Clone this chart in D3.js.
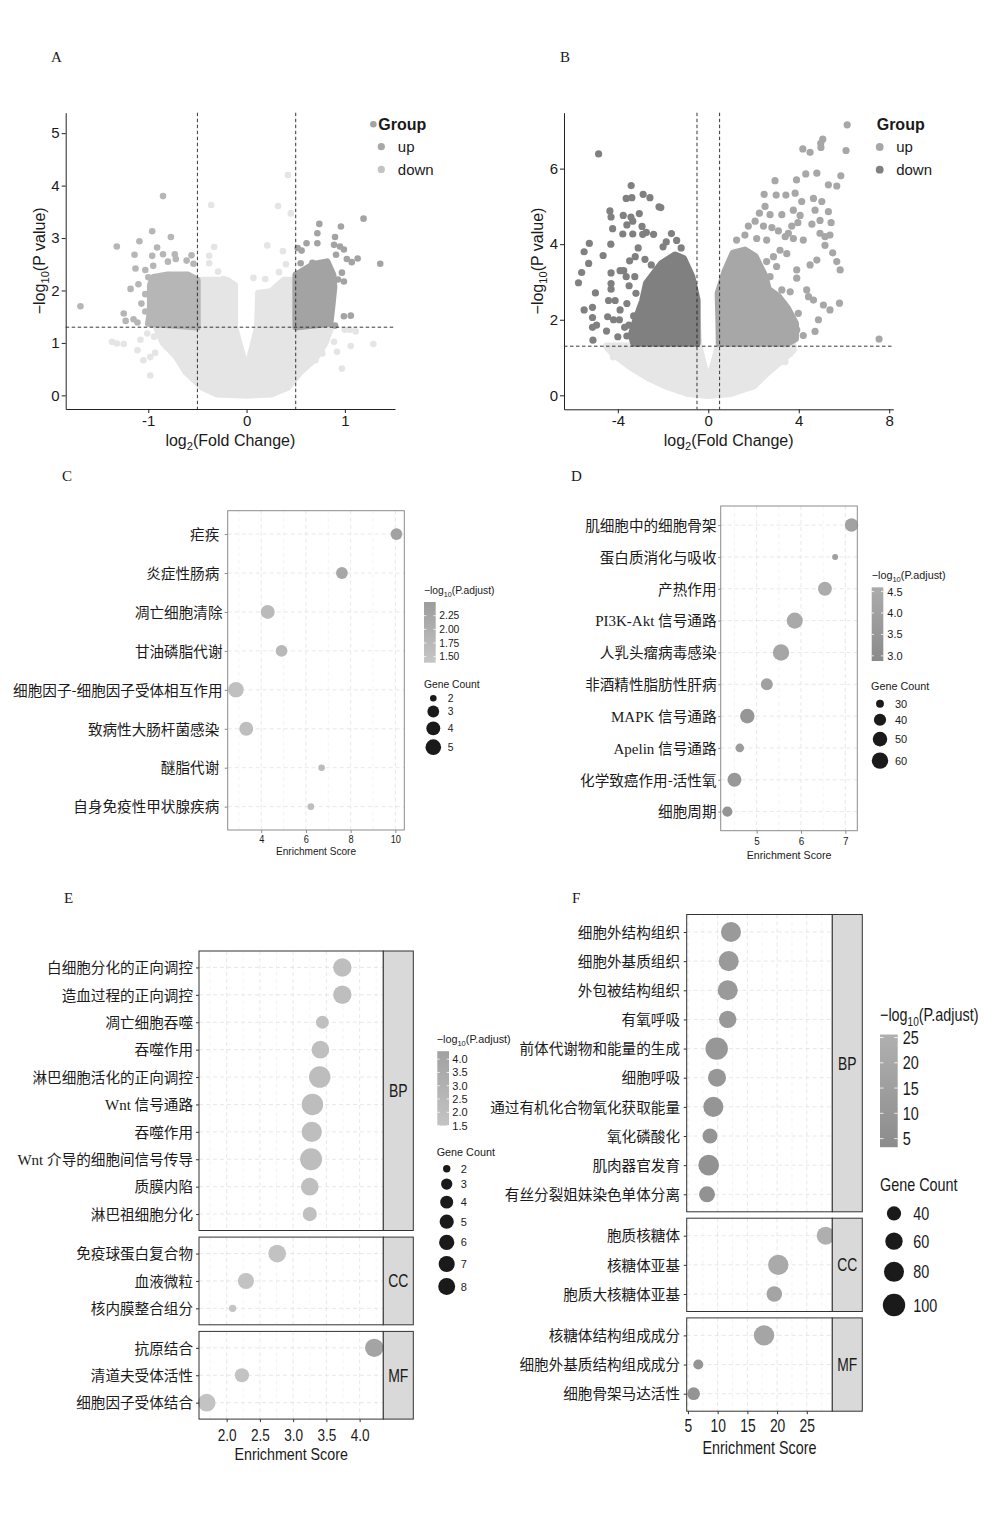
<!DOCTYPE html>
<html>
<head>
<meta charset="utf-8">
<script src="https://cdn.jsdelivr.net/npm/d3@7/dist/d3.min.js"></script>
<style>
  body { margin: 0; background: #fff; }
  svg { display: block; }
</style>
</head>
<body>
<svg id="fig" width="990" height="1513"></svg>
<script>
var SANS = '"Liberation Sans", Arial, Helvetica, sans-serif';
var CJK = '"Noto Sans CJK SC", "Noto Sans CJK JP", sans-serif';
var SERIF = '"Liberation Serif", "Times New Roman", serif';

// ---------- A / B : volcano plots ----------
var fcCut = [-0.5, 0.5];
var pCut = 1.3;
var groupNames = ["up", "down"];

// A: dense clouds (outline of overlapping dots) + single scattered dots, [log2FC, -log10 p]
var aNsHull = [[-0.5,1.3],[-0.92,1.3],[-0.85,1.0],[-0.72,0.75],[-0.62,0.45],[-0.45,0.15],[-0.3,0.02],[0,0],
  [0.25,0.02],[0.42,0.15],[0.55,0.45],[0.7,0.7],[0.8,1.0],[0.86,1.3],[0.5,1.3],[0.5,2.2],[0.38,2.2],
  [0.25,1.98],[0.12,1.95],[0.11,1.3],[0.02,0.62],[-0.02,0.62],[-0.12,1.3],[-0.12,2.1],[-0.2,2.2],
  [-0.47,2.2],[-0.5,2.15]];
var aNsPts = [[-0.36,3.63],[0.42,4.20],[0.45,3.47],[0.32,3.61],[-0.33,2.83],[0.21,2.86],[0.37,2.75],
  [-0.38,2.66],[-0.38,2.52],[0.40,2.50],[0.33,2.35],[-0.29,2.36],[-0.24,2.22],[0.07,2.24],[0.19,2.22],
  [-1.37,1.02],[-1.32,0.99],[-1.25,0.98],[-1.11,0.86],[-1.05,0.67],[-0.98,0.38],[-0.93,0.81],
  [-0.98,0.73],[-0.81,0.92],[-1.01,1.18],[-0.94,1.12],[-1.08,1.06],
  [1.29,0.98],[1.06,0.94],[0.97,0.51],[0.89,1.02],[0.92,0.83],[1.11,1.22],[1.05,1.25],[1.0,1.25],
  [0.7,0.67],[0.77,0.8]];
var aDownHull = [[-0.5,1.3],[-0.5,2.2],[-0.6,2.3],[-0.8,2.3],[-0.95,2.25],[-0.98,2.1],[-0.98,1.6],[-1.0,1.37]];
var aDownPts = [[-0.85,3.80],[-0.96,3.13],[-0.77,3.02],[-1.09,2.94],[-1.32,2.84],[-0.91,2.82],[-1.14,2.68],
  [-0.96,2.66],[-0.85,2.69],[-0.73,2.69],[-0.56,2.67],[-0.61,2.57],[-1.13,2.42],[-1.03,2.39],[-0.95,2.47],
  [-0.54,2.51],[-1.18,2.03],[-1.10,2.12],[-1.03,1.93],[-1.25,1.56],[-1.23,1.42],[-1.11,1.39],[-1.69,1.70],
  [-1.03,1.60],[-0.54,2.23],[-0.80,2.55],[-0.72,2.60],[-1.0,2.25],[-1.07,1.75],[-1.15,1.45]];
var aUpHull = [[0.5,1.3],[0.5,2.3],[0.55,2.35],[0.68,2.5],[0.82,2.55],[0.88,2.3],[0.89,2.07],[0.87,1.7],[0.85,1.37]];
var aUpPts = [[1.19,3.37],[0.74,3.27],[0.96,3.22],[0.72,3.09],[0.90,3.02],[0.52,2.81],[0.61,2.90],[0.72,2.90],
  [0.89,2.87],[0.95,2.84],[0.99,2.78],[0.56,2.76],[0.91,2.68],[1.02,2.60],[1.07,2.54],[1.13,2.61],[1.36,2.51],
  [0.55,2.52],[0.67,2.53],[0.97,2.34],[0.93,2.21],[0.99,2.17],[1.06,1.52],[0.99,1.51],[0.90,1.33],[1.29,5.17]];

// B
var bNsHull = [[-0.5,1.3],[-4.5,1.3],[-4.2,1.1],[-3.45,0.76],[-2.6,0.45],[-1.8,0.23],[-0.9,0.05],[0,0],
  [1.0,0.05],[2.0,0.25],[2.6,0.6],[3.2,0.9],[3.75,1.2],[3.75,1.3],[0.5,1.3],[0.5,2.1],[0.45,1.3],
  [0.06,0.45],[-0.06,0.45],[-0.42,1.3],[-0.5,2.0]];
var bNsPts = [[-4.2,1.02],[-4.1,1.2],[-4.4,1.24],[3.39,0.89],[3.6,1.1],[3.75,1.24]];
var bDownHull = [[-0.5,1.38],[-0.5,2.52],[-0.73,3.14],[-1.1,3.62],[-1.47,3.71],[-2.06,3.49],[-2.73,2.96],
  [-2.9,2.5],[-3.2,2.0],[-3.4,1.6],[-3.3,1.38]];
var bDownPts = [[-4.85,6.39],[-3.41,5.55],[-2.88,5.32],[-2.58,5.23],[-3.63,5.21],[-3.38,5.23],[-2.18,4.99],
  [-2.10,4.97],[-4.35,4.88],[-4.30,4.72],[-3.76,4.76],[-3.05,4.81],[-3.42,4.72],[-3.34,4.61],[-4.23,4.41],
  [-3.60,4.51],[-2.93,4.47],[-3.78,4.27],[-3.34,4.27],[-2.90,4.26],[-2.74,4.31],[-2.42,4.26],[-1.63,4.28],
  [-5.26,4.02],[-5.49,3.80],[-4.65,3.70],[-5.29,3.49],[-5.60,3.25],[-5.74,2.98],[-4.99,2.71],[-5.49,2.26],
  [-5.12,2.33],[-5.12,2.06],[-4.94,1.86],[-5.12,1.80],[-5.10,1.46],[-4.31,4.00],[-4.30,3.24],[-4.30,2.96],
  [-4.30,2.81],[-4.41,2.51],[-4.12,2.51],[-4.45,2.08],[-4.19,2.00],[-3.93,2.00],[-3.51,1.86],[-3.74,3.30],
  [-3.63,3.14],[-3.48,3.56],[-3.23,3.67],[-2.52,3.45],[-2.00,3.93],[-1.86,4.06],[-3.25,3.14],[-3.60,2.43],
  [-3.90,2.26],[-3.37,1.55],[-3.60,1.57],[-3.08,1.57],[-2.86,1.73],[-3.9,3.3],[-3.5,2.9],[-3.2,2.7],
  [-3.0,2.3],[-3.3,2.1],[-3.7,1.8],[-4.0,1.55],[-4.5,1.7],[-3.1,3.9],[-2.8,3.6],[-1.4,4.1],[-1.2,3.9]];
var bUpHull = [[0.5,1.38],[0.44,2.7],[0.74,3.27],[1.1,3.76],[1.62,3.84],[2.07,3.67],[2.5,3.15],[2.65,2.8],
  [3.1,2.61],[3.5,2.3],[3.85,1.9],[3.85,1.5],[3.5,1.38]];
var bUpPts = [[6.14,7.16],[6.09,6.48],[5.06,6.78],[4.97,6.67],[4.98,6.56],[4.18,6.52],[4.5,6.43],[4.8,5.88],
  [3.9,5.70],[4.31,5.86],[2.95,5.68],[5.86,5.81],[5.31,5.57],[5.68,5.54],[2.47,5.32],[3.0,5.30],[3.43,5.30],
  [3.84,5.35],[4.65,5.21],[5.02,5.13],[4.13,5.13],[3.76,4.90],[4.72,4.90],[5.31,4.86],[2.51,5.0],[2.73,4.78],
  [2.26,4.82],[3.25,4.78],[4.06,4.76],[4.94,4.63],[5.43,4.57],[4.58,4.53],[2.07,4.61],[1.77,4.48],[2.44,4.48],
  [2.81,4.44],[3.1,4.35],[3.69,4.48],[3.96,4.57],[3.54,4.29],[1.25,4.11],[1.62,4.24],[2.14,4.15],[2.58,4.11],
  [3.4,4.2],[3.76,4.15],[4.2,4.11],[4.94,4.29],[5.16,4.2],[5.38,4.24],[5.16,3.97],[5.5,3.77],[5.68,3.54],
  [5.83,3.32],[4.8,3.58],[4.5,3.45],[3.91,3.32],[3.91,3.1],[3.17,3.84],[3.47,3.75],[2.88,3.67],[2.36,3.23],
  [2.58,3.54],[3.02,3.41],[2.14,2.96],[2.73,3.14],[3.25,2.79],[3.62,2.74],[4.35,2.79],[4.43,2.61],[4.65,2.52],
  [5.8,2.44],[5.38,2.26],[5.09,2.39],[4.87,2.0],[4.72,1.69],[4.2,1.58],[7.55,1.49],[3.62,1.91],[3.98,2.17],
  [3.91,1.73],[2.58,2.61],[3.02,2.52]];

// ---------- C : KEGG (group 1) ----------
var cTerms = ["疟疾 ","炎症性肠病 ","凋亡细胞清除","甘油磷脂代谢","细胞因子-细胞因子受体相互作用","致病性大肠杆菌感染 ","醚脂代谢 ","自身免疫性甲状腺疾病 "];
var cScore = [10.05,7.61,4.29,4.91,2.87,3.33,6.70,6.22];
var cCount = [3,3,4,3,5,4,2,2];
var cPadj = [2.35,2.2,1.7,1.75,1.55,1.6,1.65,1.6];

// ---------- D : KEGG (group 2) ----------
var dTerms = ["肌细胞中的细胞骨架","蛋白质消化与吸收","产热作用","PI3K-Akt 信号通路","人乳头瘤病毒感染","非酒精性脂肪性肝病","MAPK 信号通路","Apelin 信号通路","化学致癌作用-活性氧","细胞周期"];
var dScore = [7.14,6.77,6.54,5.86,5.55,5.23,4.79,4.62,4.50,4.34];
var dCount = [45,29,47,58,60,39,50,31,47,34];
var dPadj = [4.1,4.0,4.55,4.45,4.3,4.0,3.5,3.8,3.6,3.4];

// ---------- E : GO (group 1) ----------
var eBpTerms = ["白细胞分化的正向调控","造血过程的正向调控","凋亡细胞吞噬","吞噬作用","淋巴细胞活化的正向调控","Wnt 信号通路","吞噬作用","Wnt 介导的细胞间信号传导","质膜内陷","淋巴祖细胞分化"];
var eBpScore = [3.74,3.74,3.44,3.41,3.40,3.29,3.28,3.27,3.25,3.25];
var eBpCount = [10,10,4,9,15,15,13,16,9,5];
var eBpPadj = [2.0,2.0,1.8,1.9,2.1,2.1,2.0,2.1,1.9,1.8];
var eCcTerms = ["免疫球蛋白复合物","血液微粒","核内膜整合组分"];
var eCcScore = [2.76,2.29,2.09];
var eCcCount = [9,7,2];
var eCcPadj = [1.7,1.6,1.5];
var eMfTerms = ["抗原结合","清道夫受体活性","细胞因子受体结合"];
var eMfScore = [4.22,2.23,1.70];
var eMfCount = [10,5,9];
var eMfPadj = [4.1,1.6,1.6];

// ---------- F : GO (group 2) ----------
var fBpTerms = ["细胞外结构组织","细胞外基质组织","外包被结构组织","有氧呼吸","前体代谢物和能量的生成","细胞呼吸","通过有机化合物氧化获取能量","氧化磷酸化","肌肉器官发育","有丝分裂姐妹染色单体分离"];
var fBpScore = [12.24,11.86,11.69,11.69,9.84,9.89,9.27,8.71,8.49,8.21];
var fBpCount = [80,80,80,60,100,65,80,45,85,51];
var fBpPadj = [12,12,12,11,10,10,9,8,7,7];
var fCcTerms = ["胞质核糖体","核糖体亚基","胞质大核糖体亚基"];
var fCcScore = [28.18,20.2,19.53];
var fCcCount = [65,83,48];
var fCcPadj = [25,22,18];
var fMfTerms = ["核糖体结构组成成分","细胞外基质结构组成成分","细胞骨架马达活性"];
var fMfScore = [17.8,6.74,5.96];
var fMfCount = [83,20,32];
var fMfPadj = [19,9,8];

var svg = d3.select("#fig").attr("font-family", SANS);

// "-log10(...)" style text with a lowered index
function subText(sel, a, s, b, fs) {
  sel.append("tspan").text(a);
  sel.append("tspan").attr("font-size", fs * 0.7).attr("dy", fs * 0.25).text(s);
  sel.append("tspan").attr("dy", -fs * 0.25).text(b);
}

// ggplot-like size mapping: radius grows with sqrt of rescaled value
function sizeScale(v0, v1, r0, r1) {
  var t = d3.scaleLinear().domain([v0, v1]).range([0, 1]);
  var s = d3.scaleSqrt().domain([0, 1]).range([r0, r1]);
  return function(v) { return s(Math.max(0, t(v))); };
}

function volcano(o) {
  var g = svg.append("g");
  var x = d3.scaleLinear().domain(o.xDom).range([o.l, o.r]);
  var y = d3.scaleLinear().domain(o.yDom).range([o.b, o.t]);
  var outline = d3.line()
    .x(function(d) { return x(d[0]); })
    .y(function(d) { return y(d[1]); })
    .curve(d3.curveLinearClosed);

  o.sets.forEach(function(s) {
    g.append("path").attr("d", outline(s.hull))
      .attr("fill", s.color).attr("stroke", s.color)
      .attr("stroke-width", o.dot * 2).attr("stroke-linejoin", "round");
    g.append("g").selectAll("circle").data(s.pts).join("circle")
      .attr("cx", function(d) { return x(d[0]); })
      .attr("cy", function(d) { return y(d[1]); })
      .attr("r", o.dot).attr("fill", s.color);
  });

  g.append("g").selectAll("line").data(fcCut).join("line")
    .attr("x1", x).attr("x2", x).attr("y1", o.t).attr("y2", o.b)
    .attr("stroke", "#222").attr("stroke-width", 0.9).attr("stroke-dasharray", "3.5,2.5");
  g.append("line").attr("x1", o.l).attr("x2", o.r).attr("y1", y(pCut)).attr("y2", y(pCut))
    .attr("stroke", "#222").attr("stroke-width", 0.9).attr("stroke-dasharray", "3.5,2.5");

  var xa = g.append("g").attr("transform", "translate(0," + o.b + ")")
    .call(d3.axisBottom(x).tickValues(o.xTicks).tickSize(4).tickPadding(2).tickSizeOuter(0)
      .tickFormat(function(d) { return String(d); }));
  var ya = g.append("g").attr("transform", "translate(" + o.l + ",0)")
    .call(d3.axisLeft(y).tickValues(o.yTicks).tickSize(4).tickPadding(2).tickSizeOuter(0)
      .tickFormat(function(d) { return String(d); }));
  [xa, ya].forEach(function(a) {
    a.attr("font-family", SANS).attr("font-size", 15);
    a.selectAll("path, line").attr("stroke", "#222");
    a.selectAll("text").attr("fill", "#1a1a1a");
  });

  var xt = g.append("text").attr("x", (o.l + o.r) / 2).attr("y", o.b + 36.6)
    .attr("text-anchor", "middle").attr("font-size", 16).attr("fill", "#1a1a1a");
  subText(xt, "log", "2", "(Fold Change)", 16);
  var yt = g.append("text")
    .attr("transform", "translate(" + (o.l - 21) + "," + ((o.t + o.b) / 2) + ") rotate(-90)")
    .attr("text-anchor", "middle").attr("font-size", 16).attr("fill", "#1a1a1a");
  subText(yt, "\u2212log", "10", "(P value)", 16);

  var lg = g.append("g");
  lg.append("text").attr("x", o.leg[0]).attr("y", o.leg[1] + 5.7)
    .attr("font-size", 16).attr("font-weight", "bold").attr("fill", "#1a1a1a").text("Group");
  var items = lg.selectAll(".it").data(groupNames).join("g")
    .attr("transform", function(d, i) { return "translate(0," + (o.leg[1] + 22.7 * (i + 1)) + ")"; });
  items.append("circle").attr("cx", o.leg[0] + 3).attr("r", o.dot + 0.3)
    .attr("fill", function(d) { return o.legColor[d]; });
  items.append("text").attr("x", o.leg[0] + 19.5).attr("y", 5.3).attr("font-size", 15)
    .attr("fill", "#1a1a1a").text(function(d) { return d; });
}

function termLabel(el, s) {
  var m = /^([A-Za-z0-9\-]+ )(.*)$/.exec(s);
  el.text(null);
  if (m) {
    el.append("tspan").attr("font-family", SERIF).attr("font-size", "1.03em").text(m[1]);
    el.append("tspan").text(m[2]);
  } else {
    el.text(s);
  }
}

function bubble(o) {
  var g = svg.append("g");
  var x = d3.scaleLinear().domain(o.xDom).range([o.l, o.r]);
  var col = d3.scaleLinear().domain(o.colDom).range(o.colRange);
  var last = null;

  o.facets.forEach(function(f) {
    var n = f.terms.length;
    var y = d3.scalePoint().domain(d3.range(n)).range([f.t, f.b]).padding(0.6);
    var grid = g.append("g").attr("stroke-dasharray", "4,3");
    grid.selectAll(".mn").data(o.minor).join("line")
      .attr("x1", x).attr("x2", x).attr("y1", f.t).attr("y2", f.b)
      .attr("stroke", "#efefef").attr("stroke-width", 0.6);
    grid.selectAll(".mj").data(o.ticks).join("line")
      .attr("x1", x).attr("x2", x).attr("y1", f.t).attr("y2", f.b)
      .attr("stroke", "#e2e2e2").attr("stroke-width", 0.8);
    grid.selectAll(".rw").data(y.domain()).join("line")
      .attr("x1", o.l).attr("x2", o.r).attr("y1", y).attr("y2", y)
      .attr("stroke", "#e2e2e2").attr("stroke-width", 0.8);

    g.append("g").selectAll("circle").data(d3.range(n)).join("circle")
      .attr("cx", function(i) { return x(f.score[i]); })
      .attr("cy", function(i) { return y(i); })
      .attr("r", function(i) { return o.size(f.count[i]); })
      .attr("fill", function(i) { return col(f.padj[i]); });

    g.append("rect").attr("x", o.l).attr("y", f.t).attr("width", o.r - o.l).attr("height", f.b - f.t)
      .attr("fill", "none").attr("stroke", o.border).attr("stroke-width", 1);

    if (f.name) {
      g.append("rect").attr("x", o.r).attr("y", f.t).attr("width", o.strip).attr("height", f.b - f.t)
        .attr("fill", "#d9d9d9").attr("stroke", o.border).attr("stroke-width", 1);
      g.append("text")
        .attr("transform", "translate(" + (o.r + o.strip / 2) + "," + ((f.t + f.b) / 2 + o.stripFs * 0.36) + ") scale(" + o.sx + ",1)")
        .attr("text-anchor", "middle").attr("font-size", o.stripFs).attr("fill", "#1a1a1a").text(f.name);
    }

    var ya = g.append("g").attr("transform", "translate(" + o.l + ",0)")
      .call(d3.axisLeft(y).tickSize(o.tick).tickPadding(o.pad)
        .tickFormat(function(i) { return f.terms[i]; }));
    ya.select(".domain").remove();
    ya.attr("font-family", CJK).attr("font-size", 14.6);
    ya.selectAll("line").attr("stroke", o.border);
    ya.selectAll("text").attr("fill", "#1a1a1a").attr("dy", "0.36em").attr("xml:space", "preserve")
      .each(function(i) { termLabel(d3.select(this), f.terms[i]); });
    last = f;
  });

  var xa = g.append("g").attr("transform", "translate(0," + last.b + ")")
    .call(d3.axisBottom(x).tickValues(o.ticks).tickSize(3).tickPadding(o.xPad)
      .tickFormat(d3.format(o.tickFmt)));
  xa.select(".domain").remove();
  xa.attr("font-family", SANS).attr("font-size", o.tickFs);
  xa.selectAll("line").attr("stroke", o.border);
  xa.selectAll("text").attr("fill", "#1a1a1a").attr("transform", "scale(" + o.sx + ",1)");

  g.append("text")
    .attr("transform", "translate(" + ((o.l + o.r) / 2) + "," + (o.titleY + o.titleFs * 0.36) + ") scale(" + o.titleSx + ",1)")
    .attr("text-anchor", "middle").attr("font-size", o.titleFs).attr("fill", "#1a1a1a")
    .text("Enrichment Score");

  legend(o.leg, col, o.size);
}

function legend(o, col, size) {
  var g = svg.append("g").attr("font-family", SANS).attr("fill", "#1a1a1a");
  var t = g.append("text")
    .attr("transform", "translate(" + o.x + "," + (o.titleY + o.fs * 0.36) + ") scale(" + o.sx + ",1)")
    .attr("font-size", o.fs);
  subText(t, "\u2212log", "10", "(P.adjust)", o.fs);

  var id = "grad" + o.id;
  var grad = svg.append("defs").append("linearGradient").attr("id", id)
    .attr("x1", 0).attr("y1", 1).attr("x2", 0).attr("y2", 0);
  grad.selectAll("stop").data(col.range()).join("stop")
    .attr("offset", function(d, i) { return i; }).attr("stop-color", function(d) { return d; });
  var bx = o.bar[0], by0 = o.bar[1], by1 = o.bar[2], bw = o.bar[3];
  var cb = d3.scaleLinear().domain(col.domain()).range([by1, by0]);
  g.append("rect").attr("x", bx).attr("y", by0).attr("width", bw).attr("height", by1 - by0)
    .attr("fill", "url(#" + id + ")");
  var tk = g.append("g").attr("stroke", "#fff").attr("stroke-width", 0.8);
  tk.selectAll(".l").data(o.ticks).join("line")
    .attr("x1", bx).attr("x2", bx + bw / 5).attr("y1", cb).attr("y2", cb);
  tk.selectAll(".r").data(o.ticks).join("line")
    .attr("x1", bx + bw * 4 / 5).attr("x2", bx + bw).attr("y1", cb).attr("y2", cb);
  g.selectAll(".cl").data(o.ticks).join("text")
    .attr("transform", function(d) { return "translate(" + o.labX + "," + (cb(d) + o.labFs * 0.36) + ") scale(" + o.sx + ",1)"; })
    .attr("font-size", o.labFs).text(d3.format(o.fmt));

  g.append("text")
    .attr("transform", "translate(" + o.gcX + "," + (o.gcY + o.fs * 0.36) + ") scale(" + o.sx + ",1)")
    .attr("font-size", o.fs).text("Gene Count");
  var ys = [], yy = o.firstY;
  o.sizes.forEach(function(v, i) {
    if (i > 0) yy += size(o.sizes[i - 1]) + size(v) + o.gap;
    ys.push(yy);
  });
  g.selectAll(".sc").data(o.sizes).join("circle")
    .attr("cx", o.cx).attr("cy", function(d, i) { return ys[i]; })
    .attr("r", size).attr("fill", "#1a1a1a");
  g.selectAll(".sl").data(o.sizes).join("text")
    .attr("transform", function(d, i) { return "translate(" + o.sLabX + "," + (ys[i] + o.labFs * 0.36) + ") scale(" + o.sx + ",1)"; })
    .attr("font-size", o.labFs).text(function(d) { return d; });
}

// ---------- panel letters ----------
svg.selectAll(".pl").data([["A", 51, 62], ["B", 560, 62], ["C", 62, 481], ["D", 571, 481], ["E", 64, 903], ["F", 572, 903]])
  .join("text").attr("x", function(d) { return d[1]; }).attr("y", function(d) { return d[2]; })
  .attr("font-family", SERIF).attr("font-size", 15).attr("fill", "#1a1a1a").text(function(d) { return d[0]; });

// ---------- draw ----------
volcano({
  l: 65.7, r: 395, t: 112.7, b: 409, xDom: [-1.84, 1.51], yDom: [-0.26, 5.39],
  xTicks: [-1, 0, 1], yTicks: [0, 1, 2, 3, 4, 5], dot: 3.3,
  sets: [
    { hull: aNsHull, pts: aNsPts, color: "#e5e5e5" },
    { hull: aDownHull, pts: aDownPts, color: "#b6b6b6" },
    { hull: aUpHull, pts: aUpPts, color: "#a3a3a3" }
  ],
  leg: [378.3, 124], legColor: { up: "#a8a8a8", down: "#c3c3c3" }
});

volcano({
  l: 564, r: 893.3, t: 112.7, b: 409.3, xDom: [-6.38, 8.18], yDom: [-0.37, 7.48],
  xTicks: [-4, 0, 4, 8], yTicks: [0, 2, 4, 6], dot: 3.6,
  sets: [
    { hull: bNsHull, pts: bNsPts, color: "#e6e6e6" },
    { hull: bDownHull, pts: bDownPts, color: "#808080" },
    { hull: bUpHull, pts: bUpPts, color: "#a7a7a7" }
  ],
  leg: [876.7, 124.3], legColor: { up: "#a7a7a7", down: "#808080" }
});

bubble({
  l: 227.7, r: 404.3, xDom: [2.5, 10.4], ticks: [4, 6, 8, 10], minor: [3, 5, 7, 9], tickFmt: "d",
  colDom: [1.39, 2.5], colRange: ["#c6c6c6", "#9c9c9c"], size: sizeScale(2, 5, 3.3, 7.8),
  border: "#8c8c8c", tick: 3, pad: 2.2, xPad: 2.5, tickFs: 10.5, sx: 0.88,
  titleY: 851, titleFs: 10.5, titleSx: 0.96,
  facets: [{ t: 510.7, b: 830, terms: cTerms, score: cScore, count: cCount, padj: cPadj }],
  leg: { id: "C", x: 424, titleY: 590.7, fs: 10.3, sx: 1, bar: [424, 602, 662.7, 11.7], labX: 439.3, labFs: 10.3,
    ticks: [1.5, 1.75, 2, 2.25], fmt: ".2f", gcX: 424, gcY: 684, sizes: [2, 3, 4, 5], firstY: 698.3, gap: 4,
    cx: 433.3, sLabX: 447.7 }
});

bubble({
  l: 720.7, r: 857.3, xDom: [4.19, 7.27], ticks: [5, 6, 7], minor: [4.5, 5.5, 6.5], tickFmt: "d",
  colDom: [2.88, 4.6], colRange: ["#8a8a8a", "#acacac"], size: sizeScale(29, 60, 3, 8.2),
  border: "#8c8c8c", tick: 2.5, pad: 1.7, xPad: 3.1, tickFs: 11, sx: 0.9,
  titleY: 855, titleFs: 11, titleSx: 0.97,
  facets: [{ t: 506, b: 830.7, terms: dTerms, score: dScore, count: dCount, padj: dPadj }],
  leg: { id: "D", x: 871.7, titleY: 575, fs: 10.8, sx: 1, bar: [871.7, 587.3, 661, 11.6], labX: 887.3, labFs: 11,
    ticks: [3, 3.5, 4, 4.5], fmt: ".1f", gcX: 871, gcY: 686.3, sizes: [30, 40, 50, 60], firstY: 703.7, gap: 6,
    cx: 880, sLabX: 895 }
});

bubble({
  l: 199, r: 383.3, strip: 30, stripFs: 17.5, xDom: [1.584, 4.356], ticks: [2, 2.5, 3, 3.5, 4],
  minor: [1.75, 2.25, 2.75, 3.25, 3.75, 4.25], tickFmt: ".1f",
  colDom: [1.5, 4.3], colRange: ["#c4c4c4", "#a1a1a1"], size: sizeScale(2, 16, 3.7, 11),
  border: "#333", tick: 3, pad: 3, xPad: 6.4, tickFs: 17, sx: 0.8,
  titleY: 1454, titleFs: 17, titleSx: 0.84,
  facets: [
    { name: "BP", t: 951, b: 1230.5, terms: eBpTerms, score: eBpScore, count: eBpCount, padj: eBpPadj },
    { name: "CC", t: 1237.1, b: 1324.8, terms: eCcTerms, score: eCcScore, count: eCcCount, padj: eCcPadj },
    { name: "MF", t: 1331.4, b: 1419.1, terms: eMfTerms, score: eMfScore, count: eMfCount, padj: eMfPadj }
  ],
  leg: { id: "E", x: 436.7, titleY: 1039.5, fs: 10.8, sx: 1, bar: [437.3, 1051.2, 1125.6, 11.7], labX: 452.3, labFs: 11,
    ticks: [1.5, 2, 2.5, 3, 3.5, 4], fmt: ".1f", gcX: 436.7, gcY: 1152, sizes: [2, 3, 4, 5, 6, 7, 8], firstY: 1168.7, gap: 6,
    cx: 446.7, sLabX: 460.7 }
});

bubble({
  l: 686.7, r: 832.3, strip: 30, stripFs: 18, xDom: [4.79, 29.29], ticks: [5, 10, 15, 20, 25],
  minor: [7.5, 12.5, 17.5, 22.5, 27.5], tickFmt: "d",
  colDom: [3.3, 25.6], colRange: ["#8c8c8c", "#b0b0b0"], size: sizeScale(0, 100, 0, 11.2),
  border: "#333", tick: 3, pad: 3.7, xPad: 5.4, tickFs: 18, sx: 0.77,
  titleY: 1447, titleFs: 18.5, titleSx: 0.775,
  facets: [
    { name: "BP", t: 914.5, b: 1211.8, terms: fBpTerms, score: fBpScore, count: fBpCount, padj: fBpPadj },
    { name: "CC", t: 1218.2, b: 1311.5, terms: fCcTerms, score: fCcScore, count: fCcCount, padj: fCcPadj },
    { name: "MF", t: 1317.9, b: 1411.2, terms: fMfTerms, score: fMfScore, count: fMfCount, padj: fMfPadj }
  ],
  leg: { id: "F", x: 880, titleY: 1015, fs: 18, sx: 0.8, bar: [880, 1034.5, 1147.2, 17.7], labX: 902.7, labFs: 18,
    ticks: [5, 10, 15, 20, 25], fmt: "d", gcX: 880, gcY: 1185, sizes: [40, 60, 80, 100], firstY: 1213.4, gap: 12,
    cx: 894, sLabX: 913.3 }
});
</script>
</body>
</html>
